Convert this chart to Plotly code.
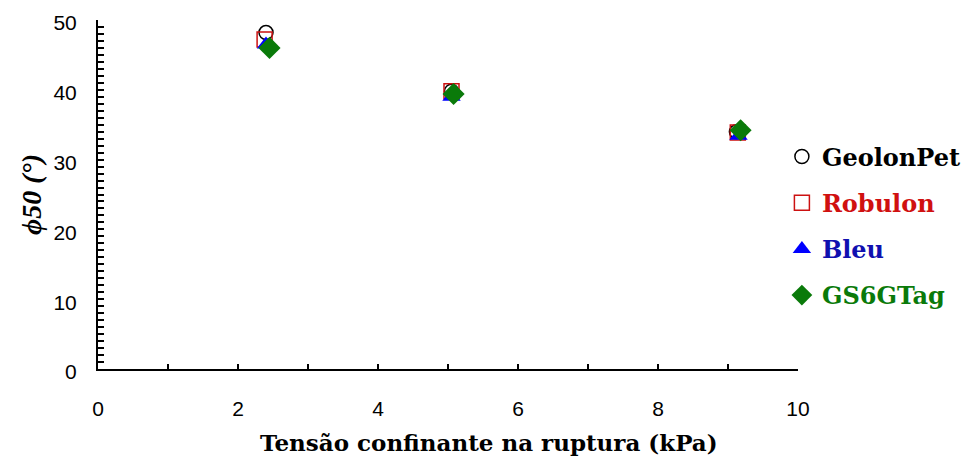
import plotly.graph_objects as go

# Data
geolon_x = [2.40, 5.05, 9.12]
geolon_y = [48.2, 39.8, 34.0]
robulon_x = [2.38, 5.05, 9.14]
robulon_y = [47.2, 39.8, 33.9]
bleu_x = [2.40, 5.05, 9.15]
bleu_y = [46.5, 39.0, 33.4]
gs6_x = [2.45, 5.08, 9.18]
gs6_y = [46.0, 39.4, 34.2]

x_ticks = [0, 2, 4, 6, 8, 10]
y_ticks = [0, 10, 20, 30, 40, 50]

FONT_SERIF = "DejaVu Serif, Liberation Serif, serif"
FONT_TICK = "Liberation Sans Narrow, Liberation Sans, Arial, sans-serif"

fig = go.Figure()
fig.add_trace(go.Scatter(
    x=geolon_x, y=geolon_y, mode="markers", legendgroup="a",
    name="<b><span style='color:#000000'>GeolonPet</span></b>",
    marker=dict(symbol="circle-open", size=14, color="#000000", line=dict(width=1.5))))
fig.add_trace(go.Scatter(
    x=robulon_x, y=robulon_y, mode="markers", legendgroup="b",
    name="<b><span style='color:#d01010'>Robulon</span></b>",
    marker=dict(symbol="square-open", size=15, color="#cc1111", line=dict(width=1.5))))
fig.add_trace(go.Scatter(
    x=bleu_x, y=bleu_y, mode="markers", legendgroup="c",
    name="<b><span style='color:#1010b0'>Bleu</span></b>",
    marker=dict(symbol="triangle-up", size=16, color="#0000ff")))
fig.add_trace(go.Scatter(
    x=gs6_x, y=gs6_y, mode="markers", legendgroup="d",
    name="<b><span style='color:#0a7a0a'>GS6GTag</span></b>",
    marker=dict(symbol="diamond", size=17, color="#0a7a0a")))

fig.update_layout(
    width=970, height=459,
    margin=dict(l=90, r=180, t=12, b=98),
    paper_bgcolor="white", plot_bgcolor="white",
    showlegend=True,
    legend=dict(
        x=0.977, xanchor="left", y=0.41, yanchor="middle",
        font=dict(family=FONT_SERIF, size=24, color="black"),
        tracegroupgap=12, itemwidth=30, bgcolor="rgba(0,0,0,0)",
        traceorder="grouped",
        borderwidth=0,
    ),
    annotations=[dict(
        text="<b>Tensão confinante na ruptura (kPa)</b>",
        xref="paper", yref="paper", x=0.559, y=0, yshift=-73,
        xanchor="center", yanchor="middle", showarrow=False,
        font=dict(family=FONT_SERIF, size=23, color="black"))],
)

fig.update_xaxes(
    range=[0, 10], tickvals=x_ticks, ticktext=[str(v) for v in x_ticks],
    showline=True, linecolor="black", linewidth=2, mirror=False,
    showgrid=False, zeroline=False, automargin=False,
    ticks="inside", ticklen=5, tickwidth=1.5, tickcolor="black",
    minor=dict(dtick=1, ticks="inside", ticklen=5, tickwidth=1.5, tickcolor="black", showgrid=False),
    ticklabelstandoff=20, ticklabeloverflow="allow",
    tickfont=dict(family=FONT_TICK, size=21, color="black"),
)
fig.update_yaxes(
    range=[0, 50], tickvals=y_ticks, ticktext=[str(v) for v in y_ticks],
    showline=True, linecolor="black", linewidth=2, mirror=False,
    showgrid=False, zeroline=False, automargin=False,
    ticks="inside", ticklen=6, tickwidth=1.5, tickcolor="black",
    minor=dict(dtick=1, ticks="inside", ticklen=6, tickwidth=1.5, tickcolor="black", showgrid=False),
    ticklabelstandoff=15, ticklabelshift=3, ticklabeloverflow="allow",
    tickfont=dict(family=FONT_TICK, size=21, color="black"),
    title=dict(text="<b><i>ϕ50 (°)</i></b>", standoff=4,
               font=dict(family="Liberation Serif, serif", size=28, color="black")),
)

fig.write_html("out.html")
